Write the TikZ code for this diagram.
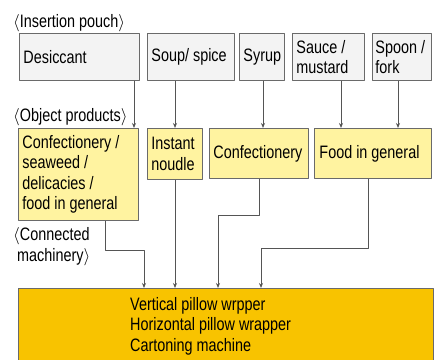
\documentclass[tikz,border=0pt]{standalone}
\usepackage{fontspec}
\setmainfont{Liberation Sans}[FakeStretch=0.8]
\usetikzlibrary{arrows.meta}
\definecolor{boxline}{HTML}{6A6A6A}
\definecolor{pouchfill}{HTML}{F3F3F3}
\definecolor{prodfill}{HTML}{FFF3A0}
\definecolor{machfill}{HTML}{F8C300}
\definecolor{wire}{HTML}{555555}
\begin{document}
\begin{tikzpicture}[x=1pt,y=-1pt,line join=round,
    font=\fontsize{18}{20.5}\selectfont,
    every node/.append style={execute at begin node={\spaceskip=4pt\relax}},
    pouch/.style={draw=boxline,line width=0.9pt,fill=pouchfill,anchor=north west,align=left,inner xsep=4pt,inner ysep=0pt},
    prod/.style={draw=boxline,line width=0.9pt,fill=prodfill,anchor=north west,align=left,inner xsep=4pt,inner ysep=0pt},
    wirearrow/.style={draw=wire,line width=0.9pt,-{Stealth[length=5pt,width=4pt]}},
    caption/.style={anchor=base west,inner sep=0pt}]
                \useasboundingbox (0,0) rectangle (438,359);
                % insertion pouch
                \node[caption] (lblpouch) at (13,27) {$\langle$Insertion pouch$\rangle$};
                \node[pouch,minimum width=120,minimum height=47,text width=112] (desic) at (19,33) {Desiccant};
                \node[pouch,minimum width=87,minimum height=47,text width=79] (soup) at (147,33) {Soup/ spice};
                \node[pouch,minimum width=45,minimum height=47,text width=37] (syrup) at (239,33) {Syrup};
                \node[pouch,minimum width=72,minimum height=47,text width=64] (sauce) at (292,33) {Sauce /\\mustard};
                \node[pouch,minimum width=59,minimum height=47,text width=53,inner xsep=3pt] (spoon) at (372,33) {Spoon /\\fork};
                % object products
                \node[caption] (lblprod) at (13,121) {$\langle$Object products$\rangle$};
                \node[prod,minimum width=120,minimum height=92,text width=112] (confsea) at (18,128) {Confectionery /\\seaweed /\\delicacies /\\food in general};
                \node[prod,minimum width=55,minimum height=51,text width=47] (noodle) at (147,128) {Instant\\noudle};
                \node[prod,minimum width=99,minimum height=50,text width=91] (conf) at (209,128) {Confectionery};
                \node[prod,minimum width=117,minimum height=50,text width=107,inner xsep=5pt] (food) at (314,128) {Food in general};
                % connected machinery
                \node[caption,align=left] (lblmach) at (13,261) {$\langle$Connected\\\hspace{4pt}machinery$\rangle$};
                \node[draw=boxline,line width=0.9pt,fill=machfill,anchor=north west,minimum width=415,minimum height=80,inner sep=0pt] (mach) at (18,288) {};
                \node[anchor=north west,align=left,inner sep=0pt] (machtxt) at ([xshift=112,yshift=-9]mach.north west) {Vertical pillow wrpper\\Horizontal pillow wrapper\\Cartoning machine};
                % connectors
                \draw[wirearrow] (desic.south -| 134,0) -- (confsea.north -| 134,0);
                \draw[wirearrow] (soup.south -| 175,0) -- (noodle.north -| 175,0);
                \draw[wirearrow] (syrup.south -| 263,0) -- (conf.north -| 263,0);
                \draw[wirearrow] (sauce.south -| 341,0) -- (food.north -| 341,0);
                \draw[wirearrow] (spoon.south -| 398,0) -- (food.north -| 398,0);
                \draw[wirearrow] (confsea.south -| 105,0) |- (144,250) -- (mach.north -| 144,0);
                \draw[wirearrow] (noodle.south -| 175,0) -- (mach.north -| 175,0);
                \draw[wirearrow] (conf.south -| 259,0) |- (218,215) -- (mach.north -| 218,0);
                \draw[wirearrow] (food.south -| 368,0) |- (261,248) -- (mach.north -| 261,0);
            \end{tikzpicture}
\end{document}
